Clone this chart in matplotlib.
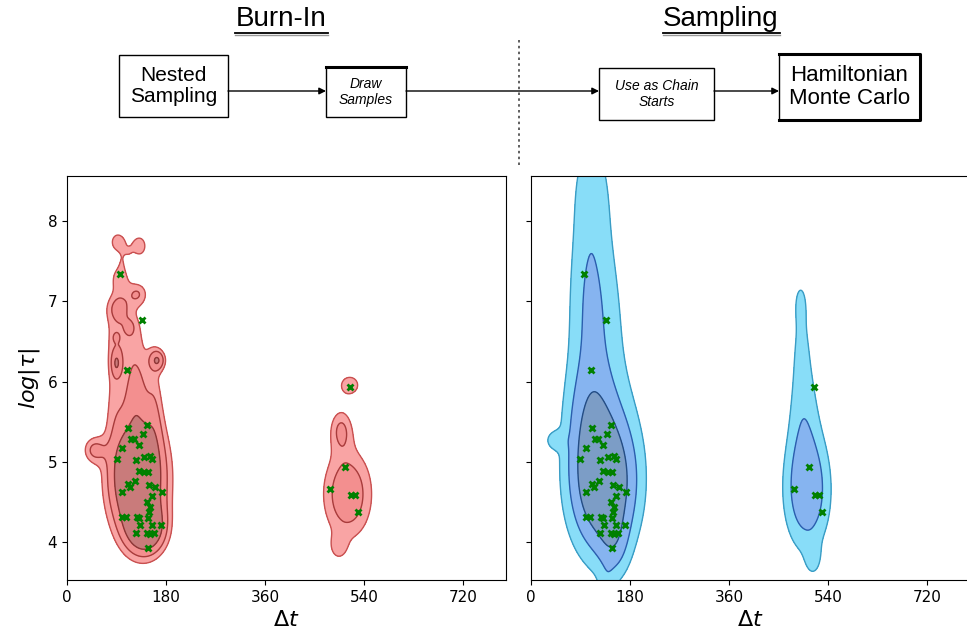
import numpy as np
import matplotlib.pyplot as plt
from matplotlib.patches import Rectangle

# chain start positions (delta t, log tau)
start_dt = [96, 136, 108.5,
            111, 146, 139, 116, 122, 131, 100.6, 90, 125.5, 140, 151, 154,
            131.5, 140, 146.7, 123.6, 111.5, 149.7, 160, 173, 99.4, 114.5,
            154, 146, 151, 149.7, 99.4, 107, 126.7, 131.5, 148, 171.5,
            132.7, 154, 125.5, 145, 151, 159, 148,
            514.5, 505, 478, 516, 524, 528.5]
start_logtau = [7.34, 6.77, 6.14,
                5.42, 5.46, 5.35, 5.28, 5.29, 5.21, 5.18, 5.04, 5.02, 5.06, 5.08, 5.04,
                4.89, 4.87, 4.88, 4.76, 4.73, 4.71, 4.69, 4.63, 4.63, 4.69,
                4.57, 4.50, 4.44, 4.38, 4.32, 4.31, 4.32, 4.30, 4.30, 4.22,
                4.21, 4.22, 4.11, 4.11, 4.10, 4.11, 3.93,
                5.94, 4.94, 4.66, 4.59, 4.59, 4.38]

# nested sampling posterior, as gaussian blobs: centre, width, weight
ns_dt = [128, 145, 125, 85, 160, 165, 90, 48,
         108, 115, 89, 92, 129, 96, 100, 92, 132, 112,
         510, 493, 498, 514]
ns_logtau = [4.8, 4.15, 5.95, 6.0, 5.8, 6.27, 6.23, 5.15,
             6.65, 6.68, 6.55, 6.93, 7.1, 7.29, 7.5, 7.74, 7.69, 7.6,
             4.6, 3.93, 5.42, 5.96]
ns_sdt = [38, 25, 16, 14, 12, 11, 7, 15,
          30, 8, 4, 16, 14, 14, 6, 14, 14, 6,
          36, 12, 16, 18]
ns_slogtau = [0.55, 0.22, 0.35, 0.5, 0.5, 0.095, 0.12, 0.125,
              0.3, 0.08, 0.04, 0.13, 0.11, 0.14, 0.1, 0.125, 0.14, 0.06,
              0.45, 0.12, 0.2, 0.12]
ns_w = [1.0, 0.55, 0.33, 0.2, 0.2, 0.42, 0.3, 0.33,
        0.26, 0.12, 0.15, 0.26, 0.3, 0.29, 0.1, 0.3, 0.3, 0.08,
        0.5, 0.2, 0.32, 0.32]

# HMC posterior blobs
hmc_dt = [132, 150, 110, 110, 106, 108, 44, 138, 135, 110,
          502, 496, 492, 490, 513]
hmc_logtau = [4.75, 4.0, 5.6, 6.7, 7.5, 8.5, 5.27, 3.4, 6.3, 8.3,
              4.65, 5.6, 6.5, 7.0, 3.8]
hmc_sdt = [38, 18, 30, 26, 24, 22, 12, 10, 50, 25,
           27, 20, 14, 9, 10]
hmc_slogtau = [0.55, 0.3, 0.5, 0.6, 0.5, 0.5, 0.08, 0.2, 1.5, 0.5,
               0.48, 0.5, 0.45, 0.2, 0.15]
hmc_w = [1.0, 0.25, 0.33, 0.22, 0.12, 0.1, 0.2, 0.15, 0.14, 0.1,
         0.55, 0.22, 0.15, 0.12, 0.17]

ns_levels = [0.24, 0.37, 0.56]
hmc_levels = [0.15, 0.33, 0.6]

xx = np.linspace(0, 800, 500)
yy = np.linspace(3.3, 8.8, 400)
X, Y = np.meshgrid(xx, yy)


def density(cx, cy, sx, sy, w):
    z = np.zeros_like(X)
    for a, b, c, d, e in zip(cx, cy, sx, sy, w):
        z += e * np.exp(-0.5 * ((X - a) / c) ** 2 - 0.5 * ((Y - b) / d) ** 2)
    return z


fig = plt.figure(figsize=(9.67, 6.42), dpi=100)

# workflow diagram along the top
top = fig.add_axes([0, 0, 1, 1])
top.set_xlim(0, 967)
top.set_ylim(642, 0)
top.axis('off')

font = 'Liberation Sans'
top.text(281, 19, 'Burn-In', ha='center', va='center', fontsize=20, family=font)
top.plot([235, 328], [33, 33], color='black', lw=1.3)
top.plot([235, 328], [35, 35], color='#999999', lw=1.0)
top.text(721, 19, 'Sampling', ha='center', va='center', fontsize=20, family=font)
top.plot([663, 780], [33, 33], color='black', lw=1.3)
top.plot([663, 780], [35, 35], color='#999999', lw=1.0)

boxes = [(119, 55, 109, 62, 'Nested\nSampling', 15, 'normal'),
         (326, 67, 80, 50, 'Draw\nSamples', 10, 'italic'),
         (599, 68, 115, 52, 'Use as Chain\nStarts', 10, 'italic'),
         (779, 54, 141, 66, 'Hamiltonian\nMonte Carlo', 16, 'normal')]
for bx, by, bw, bh, label, fs, style in boxes:
    top.add_patch(Rectangle((bx, by), bw, bh, fill=False, ec='black', lw=1.0))
    top.text(bx + bw / 2, by + bh / 2, label, ha='center', va='center',
             fontsize=fs, style=style, family=font, linespacing=1.1)
# heavier edges on some boxes
top.plot([326, 406], [67, 67], color='black', lw=2.2)
top.plot([779, 920, 920, 779], [54, 54, 120, 120], color='black', lw=2.2)

for x0, x1 in [(228, 326), (406, 599), (714, 779)]:
    top.annotate('', xy=(x1, 91), xytext=(x0, 91),
                 arrowprops=dict(arrowstyle='-|>', color='black', lw=1.0,
                                 mutation_scale=10, shrinkA=0, shrinkB=0))
top.plot([519, 519], [40, 165], color='#444444', lw=1.2, ls=(0, (1.5, 2)))

ax1 = fig.add_axes([0.0693, 0.0966, 0.454, 0.629])
ax2 = fig.add_axes([0.549, 0.0966, 0.454, 0.629])

z_ns = density(ns_dt, ns_logtau, ns_sdt, ns_slogtau, ns_w)
ax1.contourf(X, Y, z_ns, levels=ns_levels + [100],
             colors=['#f9a4a4', '#f38f8f', '#c97b7b'])
ax1.contour(X, Y, z_ns, levels=ns_levels,
            colors=['#c85050', '#a83c3c', '#8e3535'], linewidths=1.0)

z_hmc = density(hmc_dt, hmc_logtau, hmc_sdt, hmc_slogtau, hmc_w)
ax2.contourf(X, Y, z_hmc, levels=hmc_levels + [100],
             colors=['#88ddf8', '#86b4f0', '#7c9dc6'])
ax2.contour(X, Y, z_hmc, levels=hmc_levels,
            colors=['#3a9cc4', '#2a5fae', '#234d86'], linewidths=1.0)

for ax in (ax1, ax2):
    ax.plot(start_dt, start_logtau, 'x', color='green', ms=4.5, mew=2)
    ax.set_xlim(0, 798)
    ax.set_ylim(3.53, 8.56)
    ax.set_xticks([0, 180, 360, 540, 720])
    ax.set_yticks([4, 5, 6, 7, 8])
    ax.tick_params(labelsize=11)
    ax.set_xlabel(r'$\Delta t$', fontsize=16)

ax2.set_yticklabels([])
ax1.set_ylabel(r'$log|\tau|$', fontsize=16)

plt.savefig('out.png', dpi=100)
